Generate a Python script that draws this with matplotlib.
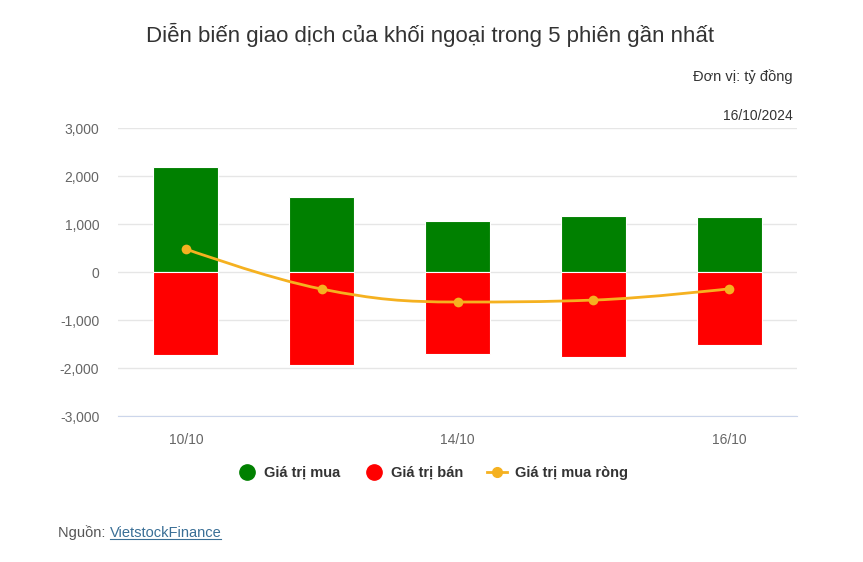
import matplotlib
matplotlib.use("Agg")
import matplotlib.pyplot as plt
from matplotlib.path import Path
from matplotlib.patches import PathPatch
from matplotlib.lines import Line2D

plt.rcParams['font.family'] = ['Liberation Sans', 'DejaVu Sans']

categories = ["10/10", "11/10", "14/10", "15/10", "16/10"]
tick_labels = ["10/10", "", "14/10", "", "16/10"]
buy_values = [2190, 1565, 1065, 1170, 1145]
sell_values = [-1730, -1940, -1705, -1770, -1520]
net_values = [480, -355, -625, -585, -350]
y_ticks = [-3000, -2000, -1000, 0, 1000, 2000, 3000]

GREEN = "#008000"
RED = "#ff0000"
NET = "#f5b120"

fig = plt.figure(figsize=(8.63, 5.62), dpi=100)
ax = fig.add_axes([118/863, 1-416/562, 679/863, 288/562])

x = list(range(len(categories)))
ax.bar(x, buy_values, width=0.48, color=GREEN, edgecolor="white", linewidth=0.8, zorder=2)
ax.bar(x, sell_values, width=0.48, color=RED, edgecolor="white", linewidth=0.8, zorder=2)

# Highcharts-style spline
def spline_path(xs, ys, sm=1.5):
    n = len(xs)
    left = [None]*n
    right = [None]*n
    for i in range(1, n-1):
        lx = (sm*xs[i] + xs[i-1])/(sm+1)
        ly = (sm*ys[i] + ys[i-1])/(sm+1)
        rx = (sm*xs[i] + xs[i+1])/(sm+1)
        ry = (sm*ys[i] + ys[i+1])/(sm+1)
        if rx != lx:
            corr = ((ry-ly)*(rx-xs[i]))/(rx-lx) + ys[i] - ry
            ly += corr
            ry += corr
        if ly > max(ys[i-1], ys[i]):
            ly = max(ys[i-1], ys[i]); ry = 2*ys[i]-ly
        elif ly < min(ys[i-1], ys[i]):
            ly = min(ys[i-1], ys[i]); ry = 2*ys[i]-ly
        if ry > max(ys[i+1], ys[i]):
            ry = max(ys[i+1], ys[i]); ly = 2*ys[i]-ry
        elif ry < min(ys[i+1], ys[i]):
            ry = min(ys[i+1], ys[i]); ly = 2*ys[i]-ry
        left[i] = (lx, ly)
        right[i] = (rx, ry)
    verts = [(xs[0], ys[0])]
    codes = [Path.MOVETO]
    for i in range(1, n):
        c1 = right[i-1] if right[i-1] else (xs[i-1], ys[i-1])
        c2 = left[i] if left[i] else (xs[i], ys[i])
        verts += [c1, c2, (xs[i], ys[i])]
        codes += [Path.CURVE4]*3
    return Path(verts, codes)

ax.add_patch(PathPatch(spline_path(x, net_values), facecolor="none", edgecolor=NET, lw=2, zorder=3))
ax.plot(x, net_values, 'o', color=NET, markersize=7, zorder=4, markeredgewidth=0)

ax.set_xlim(-0.5, len(categories)-0.5)
ax.set_ylim(-3000, 3000)
ax.set_yticks(y_ticks)
ax.set_yticklabels([f"{v:,}" for v in y_ticks])
ax.set_xticks(x)
ax.set_xticklabels(tick_labels)
ax.grid(axis='y', color="#e6e6e6", linewidth=1, zorder=0)
ax.set_axisbelow(True)
for s in ["top", "right", "left"]:
    ax.spines[s].set_visible(False)
ax.spines["bottom"].set_color("#ccd6eb")
ax.spines["bottom"].set_zorder(1)
ax.tick_params(axis='both', length=0, labelsize=10, labelcolor="#666666")
ax.tick_params(axis='y', pad=13.5)
ax.tick_params(axis='x', pad=12)

fig.text(430/863, 1-35/562, "Diễn biến giao dịch của khối ngoại trong 5 phiên gần nhất",
         ha="center", va="center", fontsize=16, color="#333333")
fig.text(793/863, 1-77/562, "Đơn vị: tỷ đồng", ha="right", va="center", fontsize=10.5, color="#333333")
fig.text(793/863, 1-116/562, "16/10/2024", ha="right", va="center", fontsize=10, color="#333333")

handles = [
    Line2D([], [], marker='o', linestyle='none', color=GREEN, markersize=11),
    Line2D([], [], marker='o', linestyle='none', color=RED, markersize=11),
    Line2D([], [], marker='o', linestyle='-', color=NET, markersize=7, lw=2),
]
fig.legend(handles, ["Giá trị mua", "Giá trị bán", "Giá trị mua ròng"], loc="center",
           bbox_to_anchor=(432/863, 1-473/562), ncol=3, frameon=False,
           prop={'weight': 'bold', 'size': 10.5}, labelcolor="#333333",
           handlelength=1.4, handletextpad=0.5, columnspacing=1.6)

t1 = fig.text(58/863, 1-533/562, "Nguồn: ", ha="left", va="center", fontsize=10.5, color="#555555")
fig.canvas.draw()
r = fig.canvas.get_renderer()
bb = t1.get_window_extent(r)
t2 = fig.text(bb.x1/863, 1-533/562, "VietstockFinance", ha="left", va="center", fontsize=10.5, color="#3a6f96")
fig.canvas.draw()
bb2 = t2.get_window_extent(r)
fig.add_artist(Line2D([bb2.x0/863, bb2.x1/863], [(bb2.y0+1)/562]*2, color="#3a6f96", lw=0.8))

fig.savefig("out.png", dpi=100, facecolor="white")
